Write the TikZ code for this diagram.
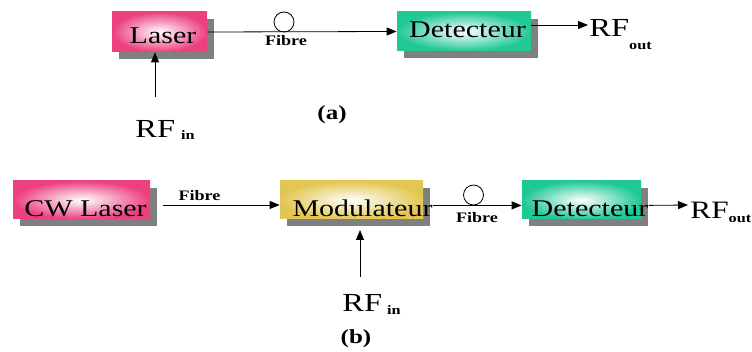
\documentclass[tikz,border=0pt]{standalone}
\usepackage{fontspec}
\setmainfont{Liberation Serif}[FakeStretch=1.25]
\usetikzlibrary{shadows,arrows.meta}

\definecolor{rose}{RGB}{236,64,128}
\definecolor{vert}{RGB}{32,200,150}
\definecolor{jaune}{RGB}{226,198,82}

\tikzset{
  bloc/.style={inner sep=0pt, inner color=white,
    drop shadow={shadow xshift=7pt,shadow yshift=-7pt,fill=black!50,opacity=1}},
  txt/.style={inner sep=0pt, anchor=base, font=\fontsize{24}{24}\selectfont},
  fib/.style={inner sep=0pt, anchor=base, font=\fontsize{14.5}{14.5}\selectfont\bfseries},
  rf/.style={inner sep=0pt, anchor=base west, font=\fontsize{26}{26}\selectfont},
  boucle/.style={draw, circle, minimum size=20pt, inner sep=0pt},
  titre/.style={inner sep=0pt, font=\fontsize{20}{20}\selectfont\bfseries}
}
\newcommand{\rfsub}[2]{RF{\fontsize{13}{13}\selectfont\bfseries\raisebox{-#2}{#1}}}

\begin{document}
\begin{tikzpicture}[x=1pt,y=-1pt,>={Triangle[length=10pt,width=8pt]},line width=0.8pt]
\useasboundingbox (0,0) rectangle (752,352);

% (a) liaison directe
\node[bloc,minimum width=95pt,minimum height=40pt,outer color=rose] (laserA) at (159.5,32) {};
\node[bloc,minimum width=134pt,minimum height=39pt,outer color=vert] (detA) at (464,31.5) {};
\node[txt] (laserAt) at (163,44) {Laser};
\node[txt] (detAt) at (467.5,38) {Detecteur};
\node[boucle] (loopA) at (284,22) {};
\node[fib] (fibA) at (286,46) {Fibre};
\node[rf] (rfoutA) at (589,37) {\rfsub{out}{13pt}};
\node[rf] (rfinA) at (135,138) {\rfsub{\hspace{6pt}in}{2pt}};
\node[titre] (capA) at (332,115) {(a)};
\coordinate (outA) at (588,25);
\coordinate (inA) at (155,97);

\draw[->] (laserA.east) -- (detA.west);
\draw[->] ([yshift=6.5pt]detA.east) -- (outA);
\draw[->] (inA) -- (inA |- laserA.south);

% (b) modulation externe
\node[bloc,minimum width=137pt,minimum height=38pt,outer color=rose] (cwB) at (81.5,200) {};
\node[bloc,minimum width=143pt,minimum height=38pt,outer color=jaune] (modB) at (351.5,200) {};
\node[bloc,minimum width=119pt,minimum height=38pt,outer color=vert] (detB) at (581.5,200) {};
\node[txt] (cwBt) at (85.5,217) {CW Laser};
\node[txt] (modBt) at (362.5,217) {Modulateur};
\node[txt] (detBt) at (590,217) {Detecteur};
\node[boucle] (loopB) at (473.5,195) {};
\node[fib] (fibB1) at (199.5,201) {Fibre};
\node[fib] (fibB2) at (477,223) {Fibre};
\node[rf,font=\fontsize{25}{25}\selectfont] (rfoutB) at (690,219) {\rfsub{out}{4pt}};
\node[rf] (rfinB) at (342,312) {\rfsub{\hspace{5pt}in}{3pt}};
\node[titre] (capB) at (356,339) {(b)};
\coordinate (outB) at (688,205);
\coordinate (inB) at (360,277);
\coordinate (tipB) at (360,230);

\draw[->] ([shift={(13,5)}]cwB.east) -- ([shift={(0,5)}]modB.west);
\draw[->] (modBt.east |- loopB.south) -- (detB.west |- loopB.south);
\draw[->] (detBt.east |- loopB.south) -- (outB);
\draw[->] (inB) -- (tipB);
\end{tikzpicture}
\end{document}
